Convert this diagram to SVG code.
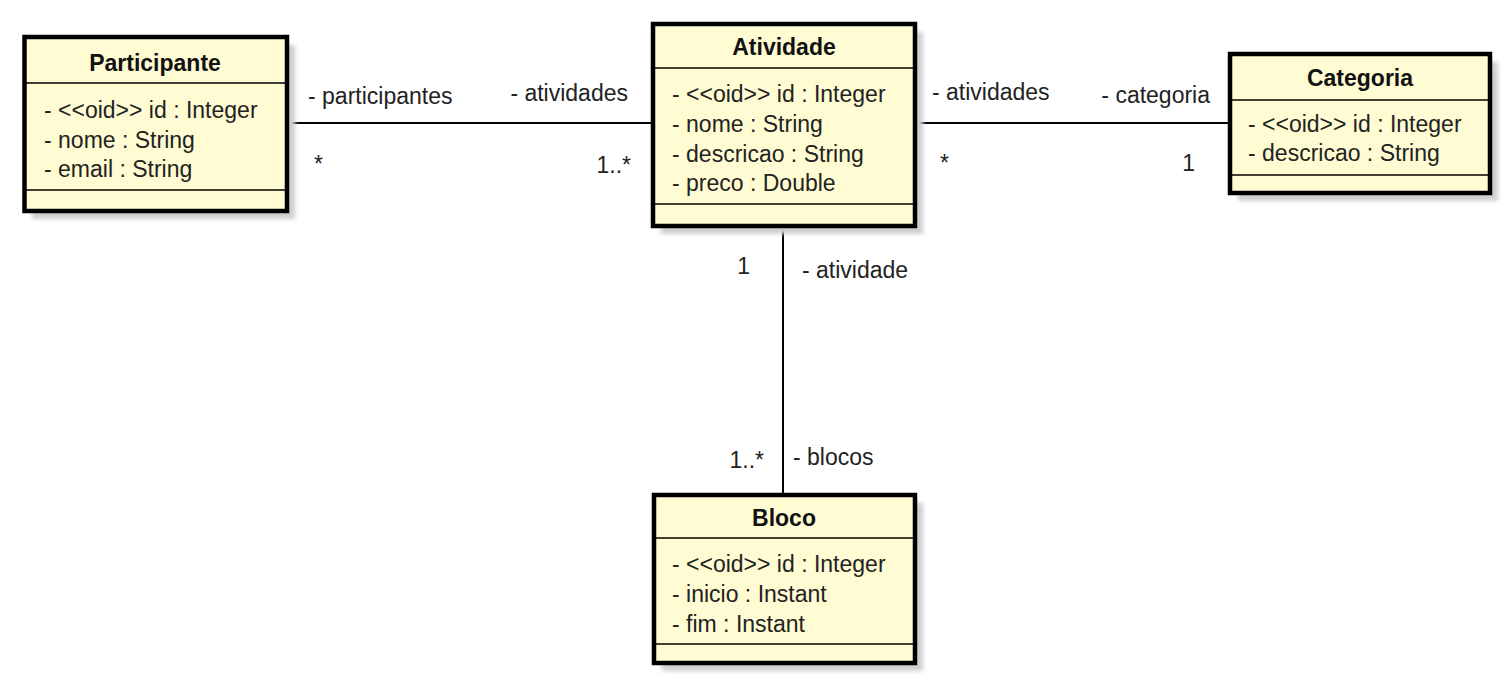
<svg xmlns="http://www.w3.org/2000/svg" width="1509" height="687" viewBox="0 0 1509 687">
<defs>
<filter id="sh" x="-10%" y="-10%" width="130%" height="130%"><feGaussianBlur stdDeviation="2"/></filter>
<style>
.box{fill:#fffbd2;stroke:#000;stroke-width:4.5}
.shadow{fill:#cfcfcf;filter:url(#sh)}
.sep{stroke:#000;stroke-width:1.6}
.title{font-family:"Liberation Sans",Arial,sans-serif;font-size:23px;font-weight:bold;text-anchor:middle;fill:#111}
.attr{font-family:"Liberation Sans",Arial,sans-serif;font-size:23px;fill:#222}
.lbl{font-family:"Liberation Sans",Arial,sans-serif;font-size:23px;fill:#222}
.conn{stroke:#000;stroke-width:2;fill:none}
</style>
</defs>
<rect width="1509" height="687" fill="#fff"/>
<g id="connectors">
<line class="conn" x1="289" y1="123" x2="651" y2="123"/>
<line class="conn" x1="917" y1="123" x2="1228" y2="123"/>
<line class="conn" x1="783" y1="228" x2="783" y2="493"/>
<text class="lbl" x="308" y="104">- participantes</text>
<text class="lbl" x="628" y="101" text-anchor="end">- atividades</text>
<text class="lbl" x="314" y="172">*</text>
<text class="lbl" x="631" y="173" text-anchor="end">1..*</text>
<text class="lbl" x="932" y="100">- atividades</text>
<text class="lbl" x="1210" y="103" text-anchor="end">- categoria</text>
<text class="lbl" x="940" y="171">*</text>
<text class="lbl" x="1195" y="171" text-anchor="end">1</text>
<text class="lbl" x="750" y="274" text-anchor="end">1</text>
<text class="lbl" x="802" y="278">- atividade</text>
<text class="lbl" x="764" y="468" text-anchor="end">1..*</text>
<text class="lbl" x="793" y="465">- blocos</text>
</g>
<g id="participante">
<rect class="shadow" x="32" y="45" width="263" height="174"/>
<rect class="box" x="24.5" y="37" width="262.5" height="174"/>
<line class="sep" x1="24.5" y1="83" x2="287" y2="83"/>
<line class="sep" x1="24.5" y1="190" x2="287" y2="190"/>
<text class="title" x="155" y="71">Participante</text>
<text class="attr" x="44" y="118">- &lt;&lt;oid&gt;&gt; id : Integer</text>
<text class="attr" x="44" y="148">- nome : String</text>
<text class="attr" x="44" y="177">- email : String</text>
</g>
<g id="atividade">
<rect class="shadow" x="661" y="32" width="262" height="202"/>
<rect class="box" x="653" y="24" width="262" height="202"/>
<line class="sep" x1="653" y1="68" x2="915" y2="68"/>
<line class="sep" x1="653" y1="204" x2="915" y2="204"/>
<text class="title" x="784" y="55">Atividade</text>
<text class="attr" x="672" y="102">- &lt;&lt;oid&gt;&gt; id : Integer</text>
<text class="attr" x="672" y="132">- nome : String</text>
<text class="attr" x="672" y="162">- descricao : String</text>
<text class="attr" x="672" y="191">- preco : Double</text>
</g>
<g id="categoria">
<rect class="shadow" x="1238" y="62" width="260" height="139"/>
<rect class="box" x="1230" y="54" width="260" height="139"/>
<line class="sep" x1="1230" y1="100" x2="1490" y2="100"/>
<line class="sep" x1="1230" y1="175" x2="1490" y2="175"/>
<text class="title" x="1360" y="86">Categoria</text>
<text class="attr" x="1248" y="132">- &lt;&lt;oid&gt;&gt; id : Integer</text>
<text class="attr" x="1248" y="161">- descricao : String</text>
</g>
<g id="bloco">
<rect class="shadow" x="662" y="503" width="261" height="168"/>
<rect class="box" x="654" y="495" width="261" height="168"/>
<line class="sep" x1="654" y1="538" x2="915" y2="538"/>
<line class="sep" x1="654" y1="644" x2="915" y2="644"/>
<text class="title" x="784" y="526">Bloco</text>
<text class="attr" x="672" y="572">- &lt;&lt;oid&gt;&gt; id : Integer</text>
<text class="attr" x="672" y="602">- inicio : Instant</text>
<text class="attr" x="672" y="632">- fim : Instant</text>
</g>
</svg>
